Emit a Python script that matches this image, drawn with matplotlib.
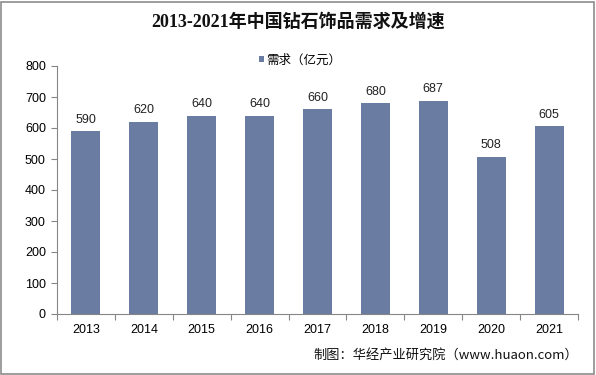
import matplotlib
matplotlib.use("Agg")
import matplotlib.pyplot as plt
from matplotlib.patches import Rectangle

plt.rcParams['font.family'] = ['Liberation Sans', 'Noto Sans CJK SC', 'DejaVu Sans']

years = ['2013', '2014', '2015', '2016', '2017', '2018', '2019', '2020', '2021']
demand = [590, 620, 640, 640, 660, 680, 687, 508, 605]
series_name = '需求（亿元）'
title = '2013-2021年中国钻石饰品需求及增速'
source = '制图：华经产业研究院（www.huaon.com）'

W, H = 596, 375
fig = plt.figure(figsize=(W / 100, H / 100), dpi=100)
fig.patch.set_facecolor('white')
fig.add_artist(Rectangle((1 / W, 1 / H), 1 - 3 / W, 1 - 3 / H, transform=fig.transFigure,
                         fill=False, edgecolor='#8c8c8c', linewidth=1.2))

ax = fig.add_axes([57 / W, 1 - 314 / H, (578 - 57) / W, (314 - 66) / H])
color = '#6B7CA3'
x = range(len(years))
bars = ax.bar(x, demand, width=0.5, color=color, label=series_name, zorder=2)
for xi, v in zip(x, demand):
    ax.text(xi, v + 18, str(v), ha='center', va='bottom', fontsize=9, color='#222222')

ax.set_xlim(-0.5, len(years) - 0.5)
ax.set_ylim(0, 800)
ax.set_yticks(range(0, 801, 100))
ax.set_xticks([i + 0.5 for i in range(-1, len(years))], minor=False)
ax.set_xticklabels([])
ax.set_xticks(list(x), minor=True)
ax.set_xticklabels(years, minor=True)
ax.tick_params(axis='x', which='major', length=4, color='#868686', direction='out')
ax.tick_params(axis='x', which='minor', length=0, labelsize=9, pad=7)
ax.tick_params(axis='y', length=4, color='#868686', labelsize=9, pad=4)
for s in ['top', 'right']:
    ax.spines[s].set_visible(False)
for s in ['left', 'bottom']:
    ax.spines[s].set_color('#868686')
    ax.spines[s].set_linewidth(0.8)

fig.text(0.5, 1 - 22 / H, title, ha='center', va='center', fontsize=13, fontweight='bold',
         family=['Liberation Serif', 'Noto Sans CJK SC', 'DejaVu Sans'], color='#111111')
leg = fig.legend(handles=[bars], labels=[series_name], loc='center', bbox_to_anchor=(300 / W, 1 - 60 / H),
                 frameon=False, handlelength=0.4, handleheight=0.4, handletextpad=0.2,
                 prop={'family': ['Noto Sans CJK SC', 'DejaVu Sans'], 'size': 9})
fig.text(578 / W, 1 - 355 / H, source, ha='right', va='center', fontsize=9.5,
         family=['Noto Sans CJK SC', 'DejaVu Sans'], color='#111111')

fig.savefig('out.png', dpi=100)
